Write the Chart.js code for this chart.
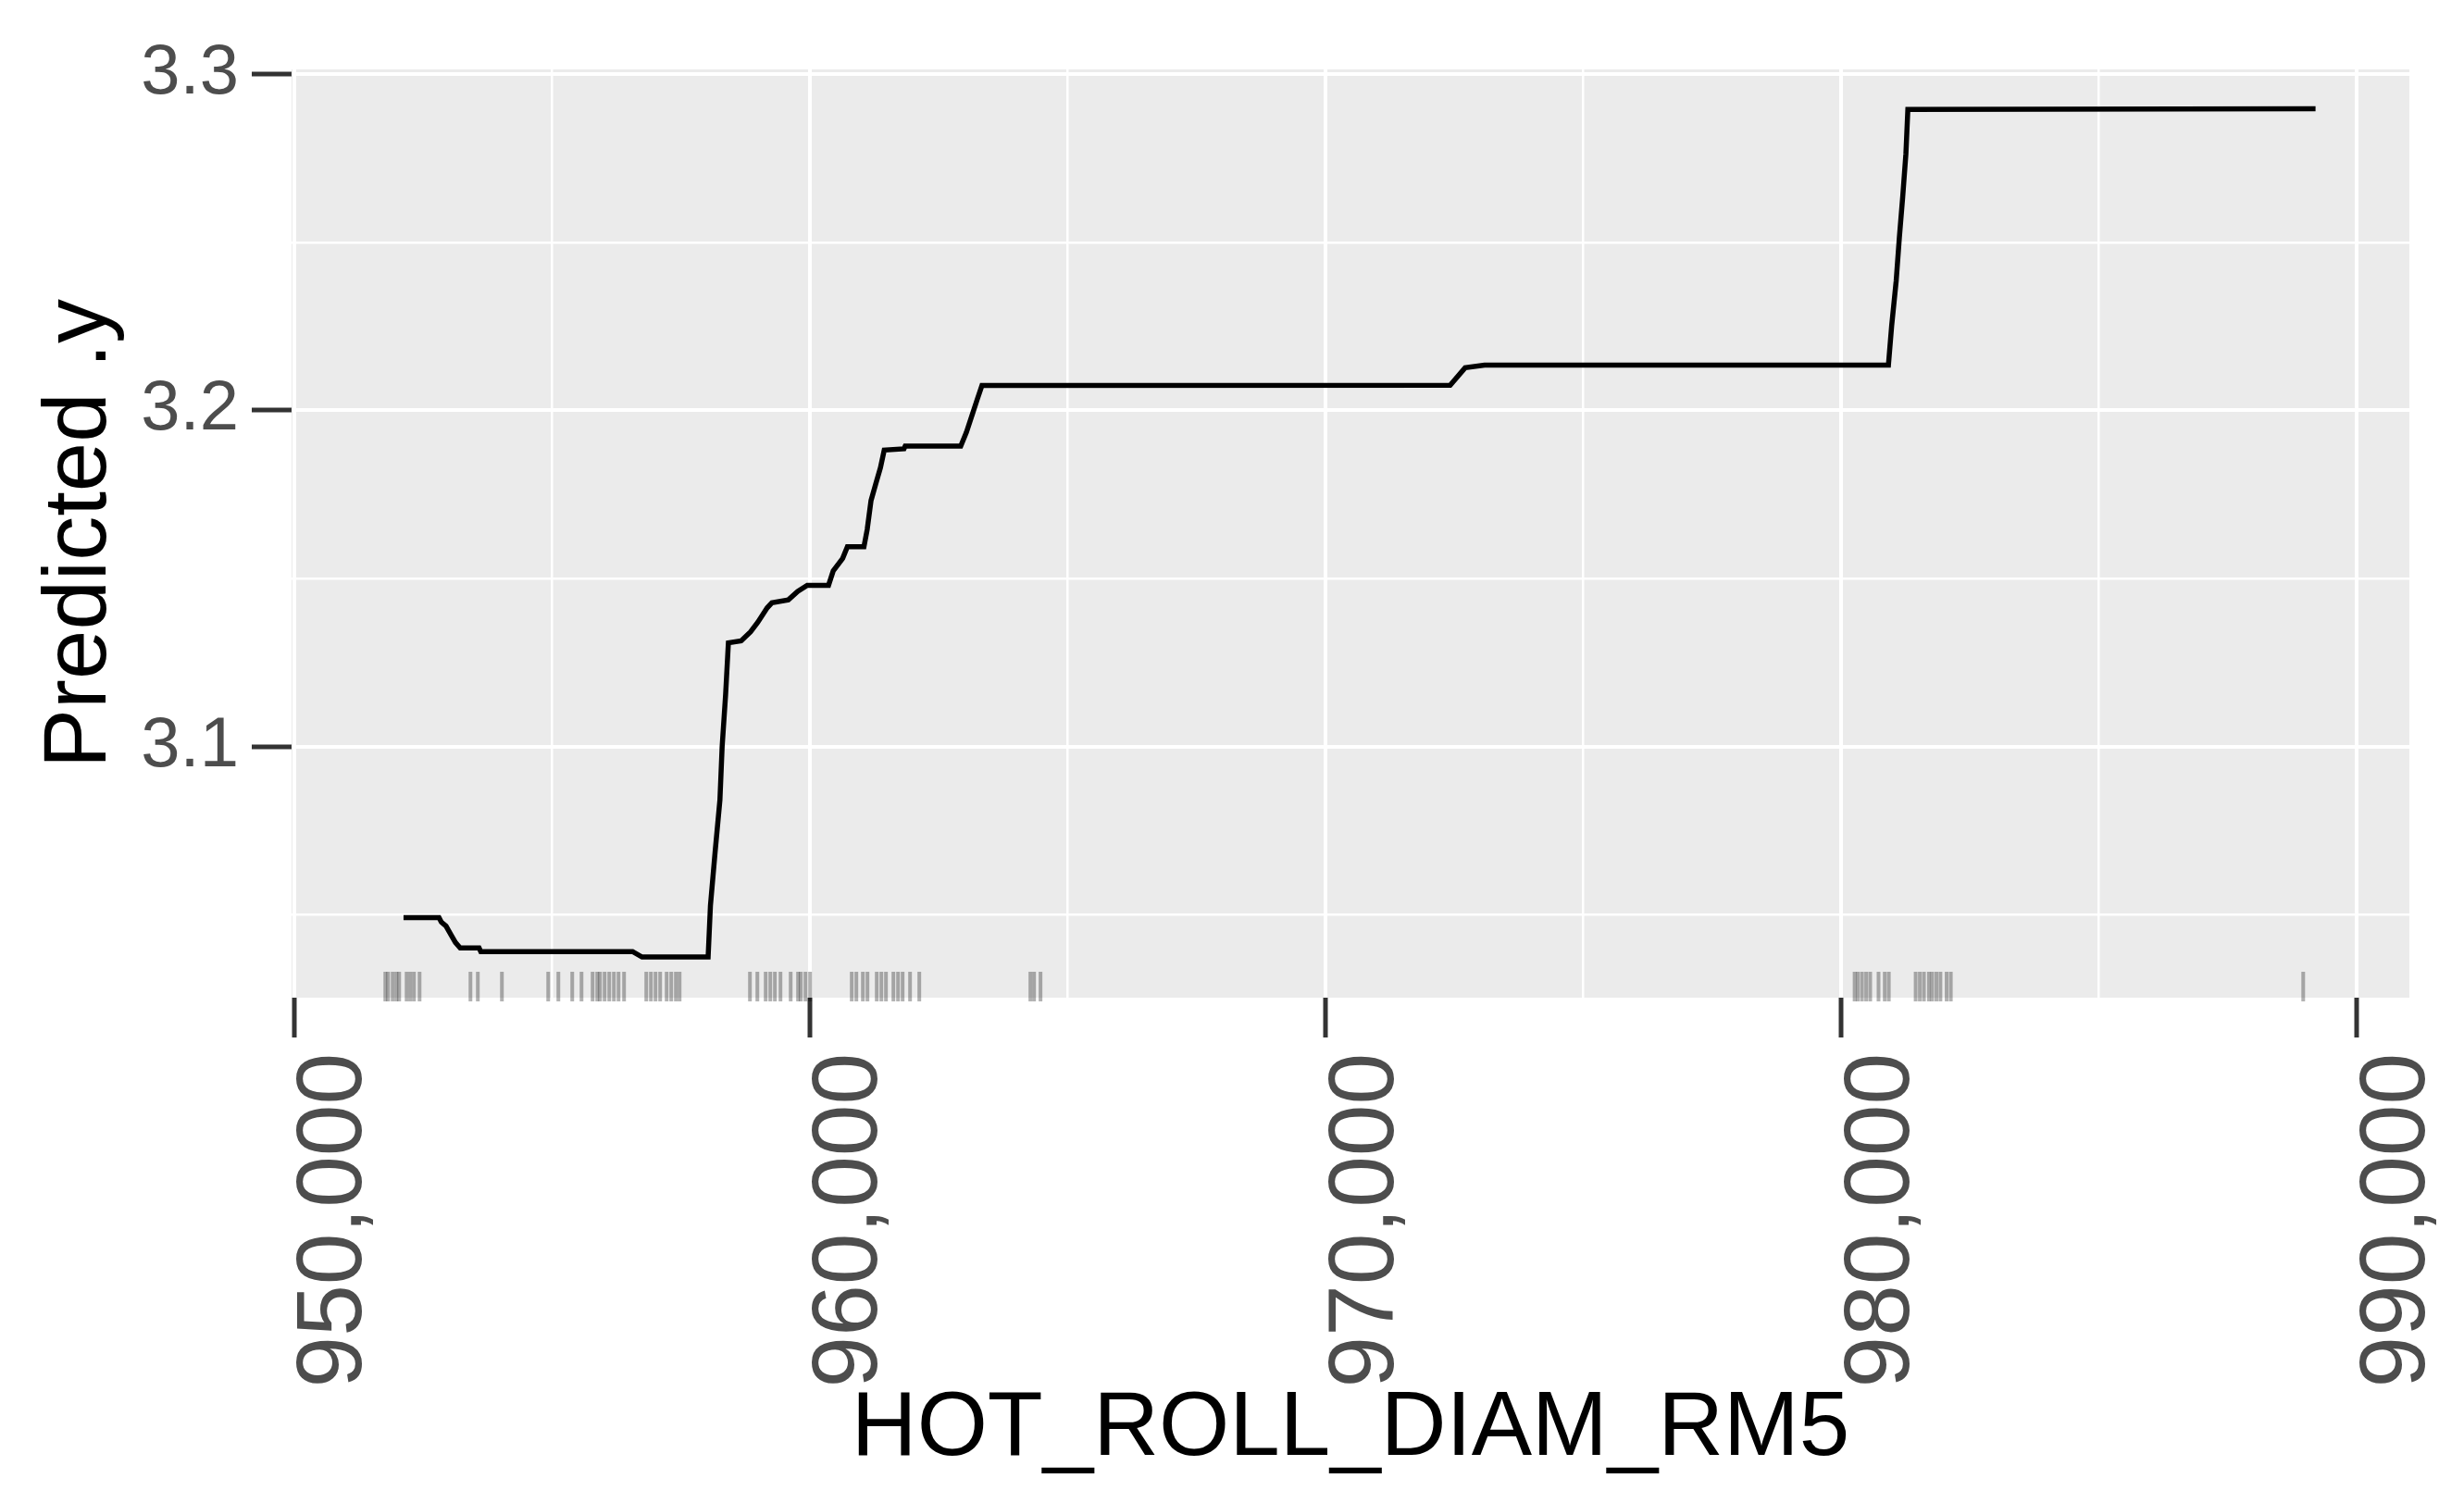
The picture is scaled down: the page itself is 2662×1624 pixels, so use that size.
<!DOCTYPE html>
<html>
<head>
<meta charset="utf-8">
<title>Partial dependence: HOT_ROLL_DIAM_RM5</title>
<script src="https://cdn.jsdelivr.net/npm/chart.js@4.4.1/dist/chart.umd.min.js"></script>
<style>
  html, body { margin: 0; padding: 0; background: #ffffff; }
  #wrap { width: 2662px; height: 1624px; }
</style>
</head>
<body>
<div id="wrap"><canvas id="pdp" width="2662" height="1624"></canvas></div>
<script>
// grid points of the partial dependence curve
const gridX = [952121, 952809, 952854, 952945, 953037, 953128, 953220, 953586, 953620, 956563,
    956746, 958028, 958073, 958164, 958257, 958300, 958367, 958421, 958668, 958851,
    958990, 959173, 959264, 959584, 959767, 959950, 960363, 960454, 960637, 960729,
    961050, 961113, 961187, 961278, 961370, 961443, 961827, 961850, 962927, 963037,
    963155, 963247, 963338, 972418, 972708, 973085, 980917, 980980, 981068, 981129,
    981194, 981256, 981294, 989200];
const predicted = [3.0492, 3.0492, 3.0479, 3.0467, 3.0442, 3.0418, 3.0402, 3.0402, 3.0391, 3.0391,
    3.0375, 3.0375, 3.0528, 3.0688, 3.0842, 3.1001, 3.1155, 3.1309, 3.1315, 3.1342,
    3.137, 3.1413, 3.1428, 3.1437, 3.1462, 3.148, 3.148, 3.1523, 3.156, 3.1595,
    3.1595, 3.1646, 3.1732, 3.1781, 3.183, 3.1882, 3.1886, 3.1894, 3.1894, 3.1935,
    3.199, 3.2033, 3.2074, 3.2075, 3.2127, 3.2135, 3.2135, 3.2252, 3.2386, 3.2514,
    3.2635, 3.2763, 3.2895, 3.2897];

// observed training values (rug)
const rugX = [951768, 951822, 951911, 951983, 952037, 952181, 952252, 952324, 952432,
    953419, 953562, 954029, 954927, 955124, 955393, 955573,
    955788, 955878, 955932, 956021, 956111, 956201, 956291, 956398,
    956829, 956919, 957008, 957098, 957224, 957313, 957403, 957475,
    958839, 958983, 959144, 959234, 959323, 959431,
    959629, 959772, 959826, 959916, 960005,
    960813, 960903, 961029, 961118, 961298, 961388, 961477, 961621, 961711, 961800, 961944, 962123,
    964277, 964349, 964474,
    980261, 980323, 980404, 980485, 980564, 980725, 980846, 980925,
    981445, 981526, 981606, 981702, 981766, 981847, 981926, 982046, 982127,
    988961];

const xMajor = [950000, 960000, 970000, 980000, 990000];
const xMinor = [955000, 965000, 975000, 985000];
const yMajor = [3.1, 3.2, 3.3];
const yMinor = [3.05, 3.15, 3.25];
const xLimits = [949950, 991020];
const yLimits = [3.0254, 3.3014];

const panelPlugin = {
    id: 'panel',
    beforeDraw(chart) {
        const { ctx, chartArea: a } = chart;
        ctx.save();
        ctx.fillStyle = '#ebebeb';
        ctx.fillRect(a.left, a.top, a.right - a.left, a.bottom - a.top);
        ctx.restore();
    },
    beforeDatasetsDraw(chart) {
        const { ctx, chartArea: a, scales: { x } } = chart;
        ctx.save();
        ctx.strokeStyle = 'rgba(0, 0, 0, 0.3)';
        ctx.lineWidth = 4;
        rugX.forEach(v => {
            const px = x.getPixelForValue(v);
            ctx.beginPath();
            ctx.moveTo(px, a.bottom - 28);
            ctx.lineTo(px, a.bottom + 4);
            ctx.stroke();
        });
        ctx.restore();
    }
};

function isMajor(list, v) {
    return list.includes(v);
}

function noPadding(scale) {
    scale.paddingLeft = 0;
    scale.paddingRight = 0;
    scale.paddingTop = 0;
    scale.paddingBottom = 0;
}

const ctx = document.getElementById('pdp').getContext('2d');

new Chart(ctx, {
    type: 'line',
    data: {
        datasets: [{
            data: gridX.map((x, i) => ({ x: x, y: predicted[i] })),
            borderColor: '#000000',
            borderWidth: 5.5,
            pointRadius: 0,
            tension: 0,
            fill: false
        }]
    },
    options: {
        responsive: false,
        animation: false,
        devicePixelRatio: 1,
        layout: { padding: { left: 0, top: 75, right: 59, bottom: 0 } },
        plugins: {
            legend: { display: false },
            tooltip: { enabled: false }
        },
        scales: {
            x: {
                type: 'linear',
                min: xLimits[0],
                max: xLimits[1],
                afterBuildTicks: s => {
                    s.ticks = [...xMajor, ...xMinor].sort((a, b) => a - b).map(v => ({ value: v }));
                },
                afterFit: s => { s.height = 546; noPadding(s); },
                border: { display: false },
                grid: {
                    color: '#ffffff',
                    lineWidth: c => isMajor(xMajor, c.tick.value) ? 4 : 2.5,
                    tickLength: 43,
                    tickWidth: 5,
                    tickColor: c => isMajor(xMajor, c.tick.value) ? '#333333' : 'rgba(0,0,0,0)'
                },
                ticks: {
                    autoSkip: false,
                    minRotation: 90,
                    maxRotation: 90,
                    padding: 17,
                    labelOffset: 45,
                    color: '#4d4d4d',
                    font: { family: '"Liberation Sans", Arial, sans-serif', size: 100 },
                    callback: v => isMajor(xMajor, v) ? v.toLocaleString('en-US') : ''
                },
                title: {
                    display: true,
                    text: 'HOT_ROLL_DIAM_RM5',
                    color: '#000000',
                    font: { family: '"Liberation Sans", Arial, sans-serif', size: 98, lineHeight: 1.2 },
                    padding: { top: 0, bottom: 20 }
                }
            },
            y: {
                type: 'linear',
                min: yLimits[0],
                max: yLimits[1],
                afterBuildTicks: s => {
                    s.ticks = [...yMinor, ...yMajor].sort((a, b) => a - b).map(v => ({ value: v }));
                },
                afterFit: s => { s.width = 315; noPadding(s); },
                border: { display: false },
                grid: {
                    color: '#ffffff',
                    lineWidth: c => isMajor(yMajor, c.tick.value) ? 4 : 2.5,
                    tickLength: 43,
                    tickWidth: 5,
                    tickColor: c => isMajor(yMajor, c.tick.value) ? '#333333' : 'rgba(0,0,0,0)'
                },
                ticks: {
                    autoSkip: false,
                    padding: 14,
                    color: '#4d4d4d',
                    font: { family: '"Liberation Sans", Arial, sans-serif', size: 76 },
                    callback: v => isMajor(yMajor, v) ? v.toFixed(1) : ''
                },
                title: {
                    display: true,
                    text: 'Predicted .y',
                    color: '#000000',
                    font: { family: '"Liberation Sans", Arial, sans-serif', size: 96, lineHeight: 1.2 },
                    padding: { top: 30, bottom: 0 }
                }
            }
        }
    },
    plugins: [panelPlugin]
});
</script>
</body>
</html>
